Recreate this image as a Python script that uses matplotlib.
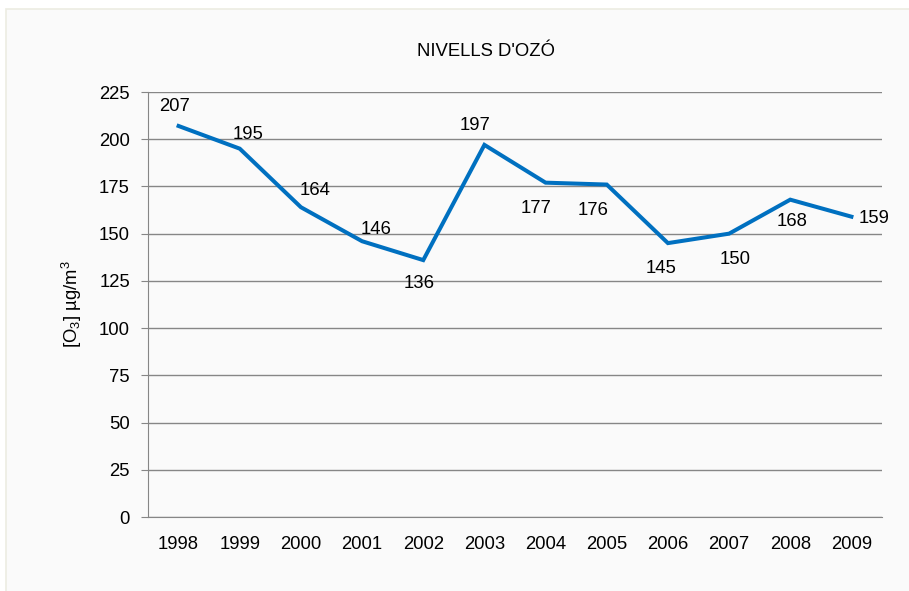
import matplotlib
matplotlib.use('Agg')
import matplotlib.pyplot as plt
from matplotlib.patches import Rectangle

plt.rcParams['font.family'] = ['Liberation Sans', 'DejaVu Sans']
plt.rcParams['mathtext.default'] = 'regular'

years = ['1998', '1999', '2000', '2001', '2002', '2003',
         '2004', '2005', '2006', '2007', '2008', '2009']
ozone = [207, 195, 164, 146, 136, 197, 177, 176, 145, 150, 168, 159]
yticks = [0, 25, 50, 75, 100, 125, 150, 175, 200, 225]

# offsets (points) for the data labels, like in the original
label_offsets = [(-3, 14), (6, 10), (10, 12), (10, 8.5), (-3, -17), (-7, 14),
                 (-7, -18.5), (-10, -19), (-5, -18), (4, -18.5), (1, -15.5), (16, -1)]

fig = plt.figure(figsize=(9.09, 5.91), dpi=100)
fig.patch.set_facecolor('white')
bg = Rectangle((6 / 909, -0.1), 1.1, (591 - 9) / 591 + 0.1,
               transform=fig.transFigure, facecolor='#fafafa',
               edgecolor='#ecece2', linewidth=1.2, zorder=-10)
fig.patches.append(bg)

ax = fig.add_axes([148 / 909, 1 - 517 / 591, (882 - 148) / 909, (517 - 92) / 591])
ax.set_facecolor('#fafafa')

x = list(range(len(years)))
ax.plot(x, ozone, color='#0070c0', linewidth=2.9, solid_joinstyle='miter', zorder=3)

for xi, v, off in zip(x, ozone, label_offsets):
    ax.annotate(str(v), (xi, v), xytext=off, textcoords='offset points',
                ha='center', va='center', fontsize=13.3, color='black')

ax.set_xlim(-0.5, len(years) - 0.5)
ax.set_ylim(0, 225)
ax.set_yticks(yticks)
ax.set_xticks(x)
ax.set_xticklabels(years)
ax.tick_params(axis='x', length=0, pad=14, labelsize=13.3)
ax.tick_params(axis='y', length=5, color='#868686', pad=8, labelsize=13.3)
ax.yaxis.grid(True, color='#868686', linewidth=1)
ax.set_axisbelow(True)

for s in ['top', 'right']:
    ax.spines[s].set_visible(False)
ax.spines['left'].set_color('#868686')
ax.spines['bottom'].set_color('#868686')

ax.set_ylabel('[O$_3$] µg/m$^3$', fontsize=13.3, labelpad=11)
fig.text(486 / 909, 1 - 52 / 591, "NIVELLS D'OZÓ", ha='center', va='center',
         fontsize=13.3)

fig.savefig('out.png', dpi=100)
